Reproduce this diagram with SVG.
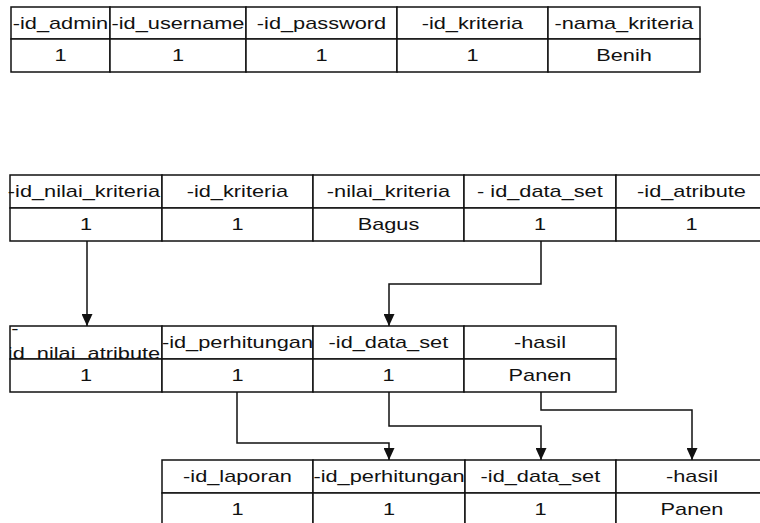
<svg xmlns="http://www.w3.org/2000/svg" width="760" height="523" viewBox="0 0 760 523">
  <style>
    .cell { fill: #ffffff; stroke: #111111; stroke-width: 1.5; }
    .t { font-family: "Liberation Sans", Arial, sans-serif; font-size: 16px; text-anchor: middle; fill: #111111;
         transform-box: fill-box; transform-origin: center; transform: scaleX(1.36); }
    .conn { fill: none; stroke: #111111; stroke-width: 1.5; marker-end: url(#arrow); }
  </style>
  <defs>
    <marker id="arrow" markerUnits="userSpaceOnUse" markerWidth="11" markerHeight="12" refX="5.5" refY="12" orient="0" viewBox="0 0 11 12">
      <path d="M0,0 L11,0 L5.5,12 Z" fill="#111111"/>
    </marker>
    <clipPath id="clipNilaiAtr">
      <rect x="10" y="326" width="152" height="33"/>
    </clipPath>
  </defs>
  <rect width="760" height="523" fill="#ffffff"/>

  <g id="table-admin">
    <rect class="cell" x="11" y="7" width="99" height="32"/>
    <rect class="cell" x="110" y="7" width="136" height="32"/>
    <rect class="cell" x="246" y="7" width="151" height="32"/>
    <rect class="cell" x="397" y="7" width="151" height="32"/>
    <rect class="cell" x="548" y="7" width="152" height="32"/>
    <rect class="cell" x="11" y="39" width="99" height="33"/>
    <rect class="cell" x="110" y="39" width="136" height="33"/>
    <rect class="cell" x="246" y="39" width="151" height="33"/>
    <rect class="cell" x="397" y="39" width="151" height="33"/>
    <rect class="cell" x="548" y="39" width="152" height="33"/>
    <text class="t" x="60.5" y="28.7">-id_admin</text>
    <text class="t" x="178" y="28.7">-id_username</text>
    <text class="t" x="321.5" y="28.7">-id_password</text>
    <text class="t" x="472.5" y="28.7">-id_kriteria</text>
    <text class="t" x="624" y="28.7">-nama_kriteria</text>
    <text class="t" x="60.5" y="61.2">1</text>
    <text class="t" x="178" y="61.2">1</text>
    <text class="t" x="321.5" y="61.2">1</text>
    <text class="t" x="472.5" y="61.2">1</text>
    <text class="t" x="624" y="61.2">Benih</text>
  </g>

  <g id="table-nilai-kriteria">
    <rect class="cell" x="10" y="175" width="152" height="33"/>
    <rect class="cell" x="162" y="175" width="151" height="33"/>
    <rect class="cell" x="313" y="175" width="151" height="33"/>
    <rect class="cell" x="464" y="175" width="152" height="33"/>
    <rect class="cell" x="616" y="175" width="152" height="33"/>
    <rect class="cell" x="10" y="208" width="152" height="33"/>
    <rect class="cell" x="162" y="208" width="151" height="33"/>
    <rect class="cell" x="313" y="208" width="151" height="33"/>
    <rect class="cell" x="464" y="208" width="152" height="33"/>
    <rect class="cell" x="616" y="208" width="152" height="33"/>
    <text class="t" x="84" y="197.2">-id_nilai_kriteria</text>
    <text class="t" x="237.5" y="197.2">-id_kriteria</text>
    <text class="t" x="388.5" y="197.2">-nilai_kriteria</text>
    <text class="t" x="540" y="197.2">- id_data_set</text>
    <text class="t" x="691.5" y="197.2">-id_atribute</text>
    <text class="t" x="86" y="230.2">1</text>
    <text class="t" x="237.5" y="230.2">1</text>
    <text class="t" x="388.5" y="230.2">Bagus</text>
    <text class="t" x="540" y="230.2">1</text>
    <text class="t" x="691.5" y="230.2">1</text>
  </g>

  <g id="table-perhitungan">
    <rect class="cell" x="10" y="326" width="152" height="33"/>
    <rect class="cell" x="162" y="326" width="151" height="33"/>
    <rect class="cell" x="313" y="326" width="151" height="33"/>
    <rect class="cell" x="464" y="326" width="152" height="33"/>
    <rect class="cell" x="10" y="359" width="152" height="33"/>
    <rect class="cell" x="162" y="359" width="151" height="33"/>
    <rect class="cell" x="313" y="359" width="151" height="33"/>
    <rect class="cell" x="464" y="359" width="152" height="33"/>
    <g clip-path="url(#clipNilaiAtr)">
      <text class="t" x="15" y="334">-</text>
      <text class="t" x="84" y="359.5">id_nilai_atribute</text>
    </g>
    <text class="t" x="237.5" y="348.2">-id_perhitungan</text>
    <text class="t" x="388.5" y="348.2">-id_data_set</text>
    <text class="t" x="540" y="348.2">-hasil</text>
    <text class="t" x="86" y="381.2">1</text>
    <text class="t" x="237.5" y="381.2">1</text>
    <text class="t" x="388.5" y="381.2">1</text>
    <text class="t" x="540" y="381.2">Panen</text>
  </g>

  <g id="table-laporan">
    <rect class="cell" x="162" y="460" width="151" height="33"/>
    <rect class="cell" x="313" y="460" width="152" height="33"/>
    <rect class="cell" x="465" y="460" width="151" height="33"/>
    <rect class="cell" x="616" y="460" width="152" height="33"/>
    <rect class="cell" x="162" y="493" width="151" height="33"/>
    <rect class="cell" x="313" y="493" width="152" height="33"/>
    <rect class="cell" x="465" y="493" width="151" height="33"/>
    <rect class="cell" x="616" y="493" width="152" height="33"/>
    <text class="t" x="237.5" y="482.2">-id_laporan</text>
    <text class="t" x="389" y="482.2">-id_perhitungan</text>
    <text class="t" x="540.5" y="482.2">-id_data_set</text>
    <text class="t" x="692" y="482.2">-hasil</text>
    <text class="t" x="237.5" y="515.2">1</text>
    <text class="t" x="389" y="515.2">1</text>
    <text class="t" x="540.5" y="515.2">1</text>
    <text class="t" x="692" y="515.2">Panen</text>
  </g>

  <g id="connectors">
    <path class="conn" d="M87,241 V326"/>
    <path class="conn" d="M541,241 V284 H389 V326"/>
    <path class="conn" d="M237,392 V443 H389 V460"/>
    <path class="conn" d="M389,392 V426 H541 V460"/>
    <path class="conn" d="M541,392 V410 H692 V460"/>
  </g>
</svg>
